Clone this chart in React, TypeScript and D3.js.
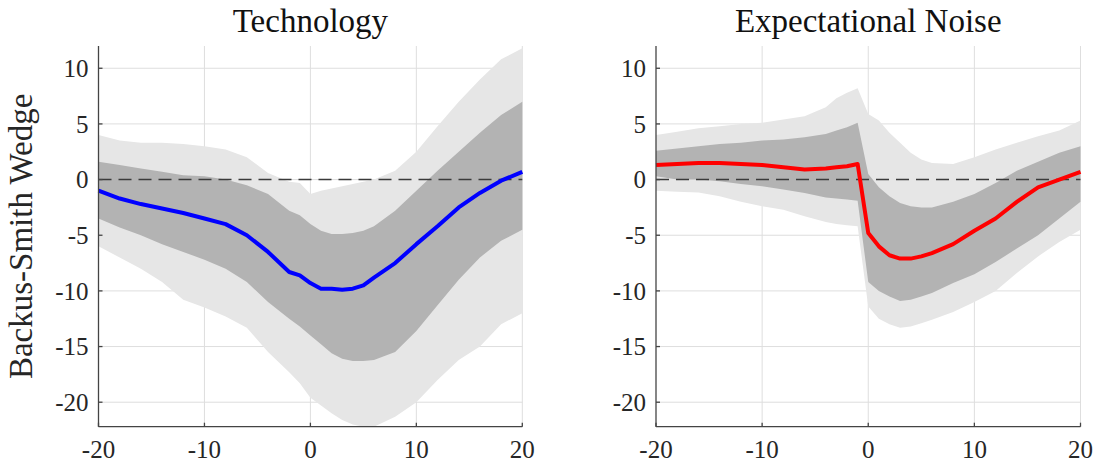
import React, { useEffect, useRef } from 'react';
import * as d3 from 'd3';

// horizons for each panel
const techX = [-20, -18, -16, -14, -12, -10, -8, -6, -4, -2, -1, 0, 1, 2, 3, 4, 5, 6, 8, 10, 12, 14, 16, 18, 20];
const techMedian = [-1.0, -1.7, -2.2, -2.6, -3.0, -3.5, -4.0, -5.0, -6.5, -8.3, -8.6, -9.3, -9.8, -9.8, -9.9, -9.8, -9.5, -8.8, -7.5, -5.8, -4.2, -2.5, -1.2, -0.1, 0.7];
const techInnerHi = [1.6, 1.3, 1.0, 0.7, 0.4, 0.3, 0.0, -0.5, -1.3, -2.8, -3.2, -4.0, -4.6, -4.9, -4.9, -4.8, -4.6, -4.2, -2.8, -1.0, 0.8, 2.5, 4.2, 5.8, 7.0];
const techInnerLo = [-3.5, -4.3, -5.0, -5.8, -6.5, -7.2, -8.0, -9.2, -11.0, -12.5, -13.2, -14.0, -14.8, -15.6, -16.1, -16.3, -16.3, -16.2, -15.5, -13.6, -11.3, -9.0, -7.0, -5.5, -4.5];
const techOuterHi = [4.0, 3.5, 3.3, 3.3, 3.2, 3.0, 2.7, 2.0, 0.6, -0.2, -0.3, -1.3, -1.0, -0.8, -0.6, -0.4, -0.2, 0.0, 0.8, 2.5, 4.8, 7.0, 9.0, 10.8, 11.8];
const techOuterLo = [-6.0, -7.0, -8.0, -9.2, -10.8, -11.5, -12.3, -13.3, -15.5, -17.3, -18.3, -19.6, -20.3, -21.0, -21.6, -22.0, -22.2, -22.2, -21.3, -20.0, -18.0, -16.2, -15.0, -13.0, -12.0];

const noiseX = [-20, -18, -16, -14, -12, -10, -8, -6, -4, -3, -2, -1, 0, 1, 2, 3, 4, 5, 6, 8, 10, 12, 14, 16, 18, 20];
const noiseMedian = [1.3, 1.4, 1.5, 1.5, 1.4, 1.3, 1.1, 0.9, 1.0, 1.1, 1.2, 1.4, -4.8, -6.0, -6.8, -7.1, -7.1, -6.9, -6.6, -5.8, -4.6, -3.5, -2.0, -0.7, 0.0, 0.7];
const noiseInnerHi = [2.6, 2.8, 3.0, 3.2, 3.3, 3.5, 3.6, 3.8, 4.1, 4.4, 4.7, 5.1, 0.5, -0.7, -1.5, -2.1, -2.4, -2.5, -2.5, -2.0, -1.3, -0.3, 0.8, 1.6, 2.4, 3.0];
const noiseInnerLo = [0.3, 0.0, 0.0, -0.15, -0.4, -0.6, -0.9, -1.2, -1.6, -1.7, -1.8, -1.9, -9.2, -10.0, -10.5, -10.9, -10.8, -10.5, -10.2, -9.3, -8.5, -7.4, -6.2, -5.0, -3.5, -2.0];
const noiseOuterHi = [4.0, 4.3, 4.6, 4.8, 5.0, 5.1, 5.4, 5.7, 6.5, 7.3, 7.8, 8.2, 5.9, 5.3, 4.2, 3.3, 2.4, 1.8, 1.5, 1.4, 2.0, 2.7, 3.3, 3.9, 4.4, 5.3];
const noiseOuterLo = [-1.0, -1.1, -1.15, -1.5, -2.0, -2.4, -2.7, -3.3, -3.8, -4.0, -4.1, -4.2, -11.4, -12.5, -13.0, -13.3, -13.2, -12.9, -12.6, -11.9, -11.0, -10.0, -8.4, -6.9, -5.6, -4.5];

const xTicks = [-20, -10, 0, 10, 20];
const yTicks = [-20, -15, -10, -5, 0, 5, 10];
const titles = ['Technology', 'Expectational Noise'];
const yLabel = 'Backus-Smith Wedge';

const FONT = '"Liberation Serif", "Times New Roman", serif';

const App = () => {
  const ref = useRef<SVGSVGElement>(null);

  useEffect(() => {
    const svg = d3.select(ref.current);
    svg.selectAll('*').remove();

    const top = 46;
    const bottom = 426.7;
    const y = d3.scaleLinear().domain([-22.2, 12]).range([bottom, top]);

    const panels = [
      { left: 98.5, right: 522.3, xs: techX, med: techMedian, iHi: techInnerHi, iLo: techInnerLo, oHi: techOuterHi, oLo: techOuterLo, color: '#0000ff' },
      { left: 656, right: 1080.5, xs: noiseX, med: noiseMedian, iHi: noiseInnerHi, iLo: noiseInnerLo, oHi: noiseOuterHi, oLo: noiseOuterLo, color: '#ff0000' },
    ];

    panels.forEach((p, k) => {
      const x = d3.scaleLinear().domain([-20, 20]).range([p.left, p.right]);
      const g = svg.append('g');

      // grid sits behind the bands
      g.selectAll('.vg')
        .data(xTicks.slice(1))
        .join('line')
        .attr('x1', d => x(d)).attr('x2', d => x(d))
        .attr('y1', top).attr('y2', bottom)
        .attr('stroke', '#dedede').attr('stroke-width', 1);
      g.selectAll('.hg')
        .data(yTicks)
        .join('line')
        .attr('x1', p.left).attr('x2', p.right)
        .attr('y1', d => y(d)).attr('y2', d => y(d))
        .attr('stroke', '#dedede').attr('stroke-width', 1);

      const idx = d3.range(p.xs.length);
      const band = (hi: number[], lo: number[]) =>
        d3.area<number>()
          .x(i => x(p.xs[i]))
          .y0(i => y(lo[i]))
          .y1(i => y(hi[i]))(idx);

      g.append('path').attr('d', band(p.oHi, p.oLo)).attr('fill', '#e6e6e6');
      g.append('path').attr('d', band(p.iHi, p.iLo)).attr('fill', '#b3b3b3');

      // zero line
      g.append('line')
        .attr('x1', x(-20)).attr('x2', x(20))
        .attr('y1', y(0)).attr('y2', y(0))
        .attr('stroke', '#3a3a3a').attr('stroke-width', 1.5)
        .attr('stroke-dasharray', '13 7');

      const line = d3.line<number>().x(i => x(p.xs[i])).y(i => y(p.med[i]));
      g.append('path')
        .attr('d', line(idx))
        .attr('fill', 'none')
        .attr('stroke', p.color)
        .attr('stroke-width', 4)
        .attr('stroke-linejoin', 'round');

      // axes
      const axisColor = '#444';
      g.append('line')
        .attr('x1', p.left).attr('x2', p.left)
        .attr('y1', top).attr('y2', bottom)
        .attr('stroke', axisColor).attr('stroke-width', 1.3);
      g.append('line')
        .attr('x1', p.left).attr('x2', p.right)
        .attr('y1', bottom).attr('y2', bottom)
        .attr('stroke', axisColor).attr('stroke-width', 1.3);

      g.selectAll('.yt')
        .data(yTicks)
        .join('line')
        .attr('x1', p.left).attr('x2', p.left + 4)
        .attr('y1', d => y(d)).attr('y2', d => y(d))
        .attr('stroke', axisColor).attr('stroke-width', 1.3);
      g.selectAll('.xt')
        .data(xTicks)
        .join('line')
        .attr('x1', d => x(d)).attr('x2', d => x(d))
        .attr('y1', bottom).attr('y2', bottom - 4)
        .attr('stroke', axisColor).attr('stroke-width', 1.3);

      g.selectAll('.yl')
        .data(yTicks)
        .join('text')
        .attr('x', p.left - 10)
        .attr('y', d => y(d))
        .attr('dy', '0.35em')
        .attr('text-anchor', 'end')
        .attr('font-family', FONT)
        .attr('font-size', 25)
        .attr('fill', '#262626')
        .text(d => String(d));
      g.selectAll('.xl')
        .data(xTicks)
        .join('text')
        .attr('x', d => x(d))
        .attr('y', 458)
        .attr('text-anchor', 'middle')
        .attr('font-family', FONT)
        .attr('font-size', 25)
        .attr('fill', '#262626')
        .text(d => String(d));

      g.append('text')
        .attr('x', (p.left + p.right) / 2)
        .attr('y', 32)
        .attr('text-anchor', 'middle')
        .attr('font-family', FONT)
        .attr('font-size', 33)
        .attr('fill', '#111')
        .text(titles[k]);
    });

    svg.append('text')
      .attr('transform', `translate(32, ${(top + bottom) / 2}) rotate(-90)`)
      .attr('text-anchor', 'middle')
      .attr('font-family', FONT)
      .attr('font-size', 33)
      .attr('fill', '#262626')
      .text(yLabel);
  }, []);

  return (
    <svg
      ref={ref}
      width={1099}
      height={466}
      style={{ position: 'absolute', left: 0, top: 0, background: '#fff' }}
    />
  );
};

export default App;
